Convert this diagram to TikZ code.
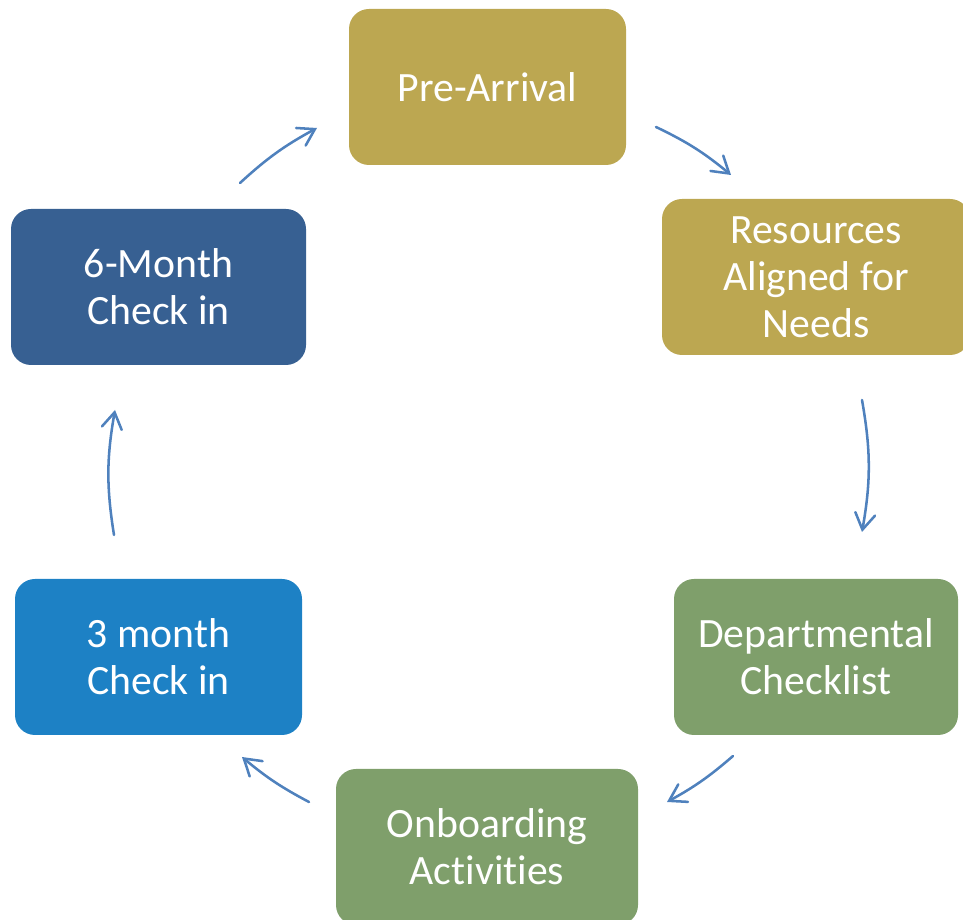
\documentclass[tikz,border=0pt]{standalone}
\usepackage{fontspec}
\setmainfont{Carlito}[Ligatures={NoCommon}]
\usetikzlibrary{arrows.meta}

\definecolor{gold}{RGB}{188,167,81}
\definecolor{sage}{RGB}{127,159,107}
\definecolor{navy}{RGB}{55,96,146}
\definecolor{sky}{RGB}{29,129,197}
\definecolor{flow}{RGB}{79,129,189}

% keep "t" and "i" as separate glyphs
\newcommand{\nolig}{\kern0pt\relax}

\tikzset{
  stage/.style 2 args={rectangle, rounded corners=15pt, draw=none,
    minimum width=#1*0.75pt, minimum height=#2*0.75pt, inner sep=0pt,
    align=center, text=white,
    font=\fontsize{31.3}{35.2}\selectfont},
  flowarrow/.style={draw=flow, line width=1.9pt, line cap=round,
    -{Straight Barb[length=12pt, width=15pt, line cap=round]}}
}

\begin{document}
\begin{tikzpicture}[x=0.75pt, y=0.75pt]
  \useasboundingbox (0,0) rectangle (963,920);
  \clip (0,0) rectangle (963,920);

  % stages of the cycle
  \node[stage={277}{156}, fill=gold] (pre) at (487.5,833) {Pre-Arrival};
  \node[stage={308}{156}, fill=gold] (res) at (816,643) {Resources\\Aligned for\\Needs};
  \node[stage={284}{156}, fill=sage] (dep) at (816,263) {Departmental\\Checklist};
  \node[stage={302}{156}, fill=sage] (onb) at (487,73) {Onboarding\\Act\nolig ivit\nolig ies};
  \node[stage={287}{156}, fill=sky] (three) at (158.5,263) {3 month\\Check in};
  \node[stage={295}{156}, fill=navy] (six) at (158.5,633) {6-Month\\Check in};

  % arrow end points on the circle around the cycle
  \coordinate (a1s) at (240,737);  \coordinate (a1e) at (317,792);
  \coordinate (a2s) at (656,793);  \coordinate (a2e) at (731,745);
  \coordinate (a3s) at (862,520);  \coordinate (a3e) at (862,388);
  \coordinate (a4s) at (733,164);  \coordinate (a4e) at (667,118);
  \coordinate (a5s) at (309,118);  \coordinate (a5e) at (242,163);
  \coordinate (a6s) at (114,385);  \coordinate (a6e) at (115,510);

  % curved connectors, clockwise
  \draw[flowarrow] (a1s) to[bend left=7]  (a1e);
  \draw[flowarrow] (a2s) to[bend left=7]  (a2e);
  \draw[flowarrow] (a3s) to[bend left=10] (a3e);
  \draw[flowarrow] (a4s) to[bend left=6]  (a4e);
  \draw[flowarrow] (a5s) to[bend left=6]  (a5e);
  \draw[flowarrow] (a6s) to[bend left=9.5] (a6e);
\end{tikzpicture}
\end{document}
